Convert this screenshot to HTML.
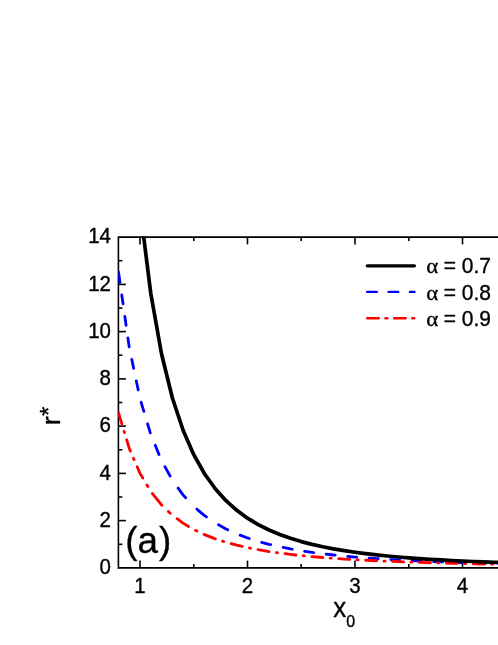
<!DOCTYPE html>
<html><head><meta charset="utf-8"><style>
html,body{margin:0;padding:0;background:#fff;}
svg{display:block}
text{font-family:"Liberation Sans",sans-serif;fill:#000;stroke:#000;stroke-width:0.35px;stroke-linejoin:round}
.t{will-change:transform}
</style></head><body>
<svg class="t" width="498" height="645" viewBox="0 0 498 645">
<rect width="498" height="645" fill="#fff"/>
<defs><clipPath id="c"><rect x="118.2" y="236.35" width="400" height="332.29999999999995"/></clipPath></defs>
<g stroke="#000" stroke-width="1.6" fill="none">
<path d="M118.4,568.6999999999999 V237.1 H510"/>
<path d="M118.4,567.9 H510"/>
<line x1="118.4" y1="544.3" x2="122.4" y2="544.3"/><line x1="118.4" y1="520.6" x2="125.9" y2="520.6"/><line x1="118.4" y1="497.0" x2="122.4" y2="497.0"/><line x1="118.4" y1="473.4" x2="125.9" y2="473.4"/><line x1="118.4" y1="449.8" x2="122.4" y2="449.8"/><line x1="118.4" y1="426.1" x2="125.9" y2="426.1"/><line x1="118.4" y1="402.5" x2="122.4" y2="402.5"/><line x1="118.4" y1="378.9" x2="125.9" y2="378.9"/><line x1="118.4" y1="355.2" x2="122.4" y2="355.2"/><line x1="118.4" y1="331.6" x2="125.9" y2="331.6"/><line x1="118.4" y1="308.0" x2="122.4" y2="308.0"/><line x1="118.4" y1="284.4" x2="125.9" y2="284.4"/><line x1="118.4" y1="260.7" x2="122.4" y2="260.7"/><line x1="140.0" y1="237.1" x2="140.0" y2="244.4"/><line x1="140.0" y1="567.9" x2="140.0" y2="560.6"/><line x1="193.8" y1="237.1" x2="193.8" y2="241.1"/><line x1="193.8" y1="567.9" x2="193.8" y2="563.9"/><line x1="247.5" y1="237.1" x2="247.5" y2="244.4"/><line x1="247.5" y1="567.9" x2="247.5" y2="560.6"/><line x1="301.2" y1="237.1" x2="301.2" y2="241.1"/><line x1="301.2" y1="567.9" x2="301.2" y2="563.9"/><line x1="355.0" y1="237.1" x2="355.0" y2="244.4"/><line x1="355.0" y1="567.9" x2="355.0" y2="560.6"/><line x1="408.8" y1="237.1" x2="408.8" y2="241.1"/><line x1="408.8" y1="567.9" x2="408.8" y2="563.9"/><line x1="462.5" y1="237.1" x2="462.5" y2="244.4"/><line x1="462.5" y1="567.9" x2="462.5" y2="560.6"/>
</g>
<g clip-path="url(#c)" fill="none" stroke-linejoin="round" stroke-linecap="round">
<path d="M118.50,271.94 L129.25,347.43 L140.00,398.48 L150.75,434.40 L161.50,460.50 L172.25,479.98 L183.00,494.85 L193.75,506.42 L204.50,515.58 L215.25,522.94 L226.00,528.93 L236.75,533.85 L247.50,537.95 L258.25,541.39 L269.00,544.30 L279.75,546.78 L290.50,548.91 L301.25,550.76 L312.00,552.36 L322.75,553.76 L333.50,554.99 L344.25,556.07 L355.00,557.03 L365.75,557.89 L376.50,558.65 L387.25,559.34 L398.00,559.95 L408.75,560.51 L419.50,561.01 L430.25,561.47 L441.00,561.88 L451.75,562.26 L462.50,562.61 L473.25,562.92 L484.00,563.21 L494.75,563.48 L505.50,563.73 L516.25,563.96" stroke="#0000ff" stroke-width="2.8" stroke-dasharray="0.00 1.40 9.12 12.60 9.12 12.60 9.12 12.60 9.13 12.71 9.26 12.71 9.26 12.77 9.52 12.93 9.52 13.28 9.96 13.59 10.68 14.52 12.27 15.94 12.39 14.42 10.57 13.41 9.77 12.96 9.40 12.74 9.21 12.63 9.12 12.58 9.07 12.55 9.04 12.53 9.03 12.52 9.02 12.51 9.01 12.51 9.01 12.51 9.01 12.50 9.00 12.50 9.00 9999.00"/>
<path d="M118.50,412.71 L129.25,448.45 L140.00,473.38 L150.75,491.42 L161.50,504.87 L172.25,515.14 L183.00,523.15 L193.75,529.51 L204.50,534.64 L215.25,538.83 L226.00,542.30 L236.75,545.20 L247.50,547.64 L258.25,549.73 L269.00,551.51 L279.75,553.05 L290.50,554.39 L301.25,555.56 L312.00,556.59 L322.75,557.50 L333.50,558.31 L344.25,559.03 L355.00,559.67 L365.75,560.25 L376.50,560.77 L387.25,561.24 L398.00,561.67 L408.75,562.06 L419.50,562.41 L430.25,562.74 L441.00,563.03 L451.75,563.31 L462.50,563.56 L473.25,563.79 L484.00,564.01 L494.75,564.20 L505.50,564.39 L516.25,564.56" stroke="#ff0000" stroke-width="2.8" stroke-dasharray="0.00 1.40 10.57 7.50 1.27 7.71 11.79 7.70 1.45 7.92 12.67 8.04 1.74 8.39 15.01 9.02 2.59 8.80 13.84 8.00 1.52 8.01 12.04 7.53 1.30 7.68 11.42 7.41 1.17 7.59 11.19 7.35 1.14 7.54 11.09 7.33 1.12 7.52 11.05 7.31 1.11 7.51 11.03 7.31 1.11 7.51 11.02 7.30 1.10 7.50 11.01 7.30 1.10 7.50 11.01 7.30 1.10 7.50 11.00 7.30 1.10 7.50 11.00 7.30 1.10 7.50 11.00 9999.00"/>
<path d="M142.97,231.10 L150.75,293.28 L161.50,353.73 L172.25,397.51 L183.00,430.02 L193.75,454.69 L204.50,473.75 L215.25,488.73 L226.00,500.66 L236.75,510.28 L247.50,518.14 L258.25,524.61 L269.00,530.00 L279.75,534.52 L290.50,538.34 L301.25,541.60 L312.00,544.38 L322.75,546.79 L333.50,548.87 L344.25,550.69 L355.00,552.28 L365.75,553.67 L376.50,554.91 L387.25,556.00 L398.00,556.97 L408.75,557.84 L419.50,558.62 L430.25,559.32 L441.00,559.95 L451.75,560.52 L462.50,561.03 L473.25,561.50 L484.00,561.93 L494.75,562.31 L505.50,562.67 L516.25,562.99" stroke="#000" stroke-width="3.7" stroke-linecap="butt"/>
</g>
<g font-size="20.5px"><text transform="translate(111,574.1) scale(1,1.11)" text-anchor="end">0</text><text transform="translate(111,526.8) scale(1,1.11)" text-anchor="end">2</text><text transform="translate(111,479.6) scale(1,1.11)" text-anchor="end">4</text><text transform="translate(111,432.3) scale(1,1.11)" text-anchor="end">6</text><text transform="translate(111,385.1) scale(1,1.11)" text-anchor="end">8</text><text transform="translate(111,337.8) scale(1,1.11)" text-anchor="end">10</text><text transform="translate(111,290.6) scale(1,1.11)" text-anchor="end">12</text><text transform="translate(111,243.3) scale(1,1.11)" text-anchor="end">14</text><text transform="translate(140.0,592.7) scale(1,1.11)" text-anchor="middle">1</text><text transform="translate(247.5,592.7) scale(1,1.11)" text-anchor="middle">2</text><text transform="translate(355.0,592.7) scale(1,1.11)" text-anchor="middle">3</text><text transform="translate(462.5,592.7) scale(1,1.11)" text-anchor="middle">4</text></g>
<text x="125.2" y="553.1" font-size="36.8px">(a<tspan dx="1">)</tspan></text>
<g font-size="20px" stroke-linecap="round">
<line x1="367.3" y1="265.8" x2="414.4" y2="265.8" stroke="#000" stroke-width="3.3"/>
<line x1="367.2" y1="291.9" x2="414.5" y2="291.9" stroke="#0000ff" stroke-width="2.4" stroke-dasharray="9.6 11.8"/>
<line x1="367.2" y1="318.2" x2="414.5" y2="318.2" stroke="#ff0000" stroke-width="2.4" stroke-dasharray="11.6 6.6 1.9 6.8"/>
<text transform="translate(426.2,273.4) scale(1.04,1)" style="font-family:&quot;Liberation Serif&quot;,serif" font-size="22px">α</text><text transform="translate(491,273.4) scale(1,1.09)" text-anchor="end" font-size="21px">= 0.7</text><text transform="translate(426.2,299.6) scale(1.04,1)" style="font-family:&quot;Liberation Serif&quot;,serif" font-size="22px">α</text><text transform="translate(491,299.6) scale(1,1.09)" text-anchor="end" font-size="21px">= 0.8</text><text transform="translate(426.2,325.7) scale(1.04,1)" style="font-family:&quot;Liberation Serif&quot;,serif" font-size="22px">α</text><text transform="translate(491,325.7) scale(1,1.09)" text-anchor="end" font-size="21px">= 0.9</text>
</g>
<text transform="translate(59.8,425.0) rotate(-90)" font-size="26px">r<tspan dy="-3" dx="0.3" font-size="24px">*</tspan></text>
<text transform="translate(333.2,616.7) scale(1,1.04)" font-size="26px">x<tspan dy="10" font-size="16px">0</tspan></text>
</svg>
</body></html>
